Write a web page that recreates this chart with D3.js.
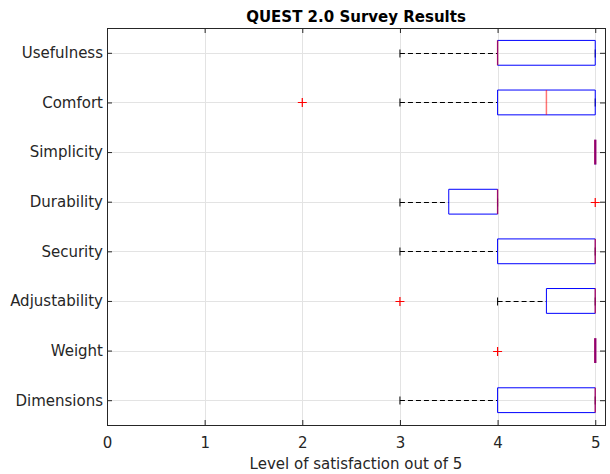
<!DOCTYPE html>
<html>
<head>
<meta charset="utf-8">
<script src="https://cdn.jsdelivr.net/npm/d3@7"></script>
<style>
  body { margin: 0; background: #fff; }
  text { font-family: "DejaVu Sans", sans-serif; fill: #262626; }
</style>
</head>
<body>
<svg id="chart" width="610" height="474"></svg>
<script>
// categories, bottom to top
const categories = ["Dimensions", "Weight", "Adjustability", "Security", "Durability", "Simplicity", "Comfort", "Usefulness"];
const q1 = [4, 5, 4.5, 4, 3.5, 5, 4, 4];
const medians = [5, 5, 5, 5, 4, 5, 4.5, 4];
const q3 = [5, 5, 5, 5, 4, 5, 5, 5];
const whiskerLow = [3, 5, 4, 3, 3, 5, 3, 3];
const whiskerHigh = [5, 5, 5, 5, 4, 5, 5, 5];
const outliers = [[], [4], [3], [], [5], [], [2], []];
const xTicks = [0, 1, 2, 3, 4, 5];

const margin = {top: 28, right: 5, bottom: 49, left: 107};
const W = 610, H = 474;
const svg = d3.select("#chart");

const x = d3.scaleLinear().domain([0, 5.1]).range([margin.left, W - margin.right]);
const y = d3.scaleLinear().domain([0.5, categories.length + 0.5]).range([H - margin.bottom, margin.top]);
const pos = categories.map((c, i) => i + 1);

// grid
const grid = svg.append("g").attr("stroke", "#e3e3e3").attr("stroke-width", 1);
grid.selectAll(".vg").data(xTicks).enter().append("line")
  .attr("x1", d => Math.round(x(d)) + 0.5).attr("x2", d => Math.round(x(d)) + 0.5)
  .attr("y1", y.range()[1]).attr("y2", y.range()[0]);
grid.selectAll(".hg").data(pos).enter().append("line")
  .attr("y1", d => Math.round(y(d)) + 0.5).attr("y2", d => Math.round(y(d)) + 0.5)
  .attr("x1", x.range()[0]).attr("x2", x.range()[1]);

// boxplots
const half = 0.25; // half box width in y units
const capHalf = 4;
const boxes = svg.append("g");
const marks = svg.append("g");
categories.forEach((c, i) => {
  const yc = Math.round(y(pos[i])) + 0.5;
  const yt = y(pos[i] + half), yb = y(pos[i] - half);
  const g = boxes.append("g");
  const dash = (a, b) => g.append("line").attr("x1", x(a)).attr("x2", x(b))
      .attr("y1", yc).attr("y2", yc)
      .attr("stroke", "#000").attr("stroke-dasharray", "5,3");
  if (whiskerLow[i] < q1[i]) dash(whiskerLow[i], q1[i]);
  if (whiskerHigh[i] > q3[i]) dash(q3[i], whiskerHigh[i]);
  // caps
  if (q1[i] < q3[i]) {
    [whiskerLow[i], whiskerHigh[i]].forEach(v => {
      g.append("line").attr("x1", x(v)).attr("x2", x(v))
        .attr("y1", yc - capHalf).attr("y2", yc + capHalf)
        .attr("stroke", "#000");
    });
  }
  // box (path so a collapsed box still shows as a line)
  const bx0 = x(q1[i]), bx1 = x(q3[i]);
  g.append("path")
    .attr("d", `M${bx0},${yt}H${bx1}V${yb}H${bx0}Z`)
    .attr("fill", "none").attr("stroke", "#0000ff")
    .attr("stroke-width", q1[i] < q3[i] ? 1 : 2);
  // median
  g.append("line").attr("x1", x(medians[i])).attr("x2", x(medians[i]))
    .attr("y1", yt).attr("y2", yb)
    .attr("stroke", "#ff0000").attr("stroke-opacity", 0.55)
    .attr("stroke-width", q1[i] < q3[i] ? 1.5 : 2.5);
  // outliers
  outliers[i].forEach(v => {
    marks.append("path")
      .attr("d", `M${x(v) - 4.5},${yc}H${x(v) + 4.5}M${x(v)},${yc - 4.5}V${yc + 4.5}`)
      .attr("stroke", "#ff0000").attr("stroke-width", 1.2);
  });
});

// axes
const axisCol = "#262626";
const xAxis = svg.append("g").attr("transform", `translate(0,${y.range()[0]})`)
  .call(d3.axisBottom(x).tickValues(xTicks).tickSize(-5).tickPadding(12).tickFormat(d3.format("d")));
const xTop = svg.append("g").attr("transform", `translate(0,${y.range()[1]})`)
  .call(d3.axisTop(x).tickValues(xTicks).tickSize(-5).tickFormat(""));
const yAxis = svg.append("g").attr("transform", `translate(${x.range()[0]},0)`)
  .call(d3.axisLeft(y).tickValues(pos).tickSize(-5).tickPadding(4).tickFormat((d, i) => categories[i]));
const yRight = svg.append("g").attr("transform", `translate(${x.range()[1]},0)`)
  .call(d3.axisRight(y).tickValues(pos).tickSize(-5).tickFormat(""));
[xAxis, xTop, yAxis, yRight].forEach(a => {
  a.select(".domain").attr("d", null);
  a.selectAll(".tick line").attr("stroke", axisCol);
  a.selectAll("text").attr("fill", axisCol).style("font-size", "15px").style("font-family", "DejaVu Sans");
});
svg.append("rect")
  .attr("x", x.range()[0] + 0.5).attr("y", y.range()[1] + 0.5)
  .attr("width", x.range()[1] - x.range()[0]).attr("height", y.range()[0] - y.range()[1])
  .attr("fill", "none").attr("stroke", axisCol);
svg.node().appendChild(marks.node());

// labels
svg.append("text").attr("x", (x.range()[0] + x.range()[1]) / 2).attr("y", 22)
  .attr("text-anchor", "middle").style("font-weight", "bold").style("font-size", "15px").style("fill", "#000")
  .text("QUEST 2.0 Survey Results");
svg.append("text").attr("x", (x.range()[0] + x.range()[1]) / 2).attr("y", 469)
  .attr("text-anchor", "middle").style("font-size", "15px")
  .text("Level of satisfaction out of 5");
</script>
</body>
</html>
